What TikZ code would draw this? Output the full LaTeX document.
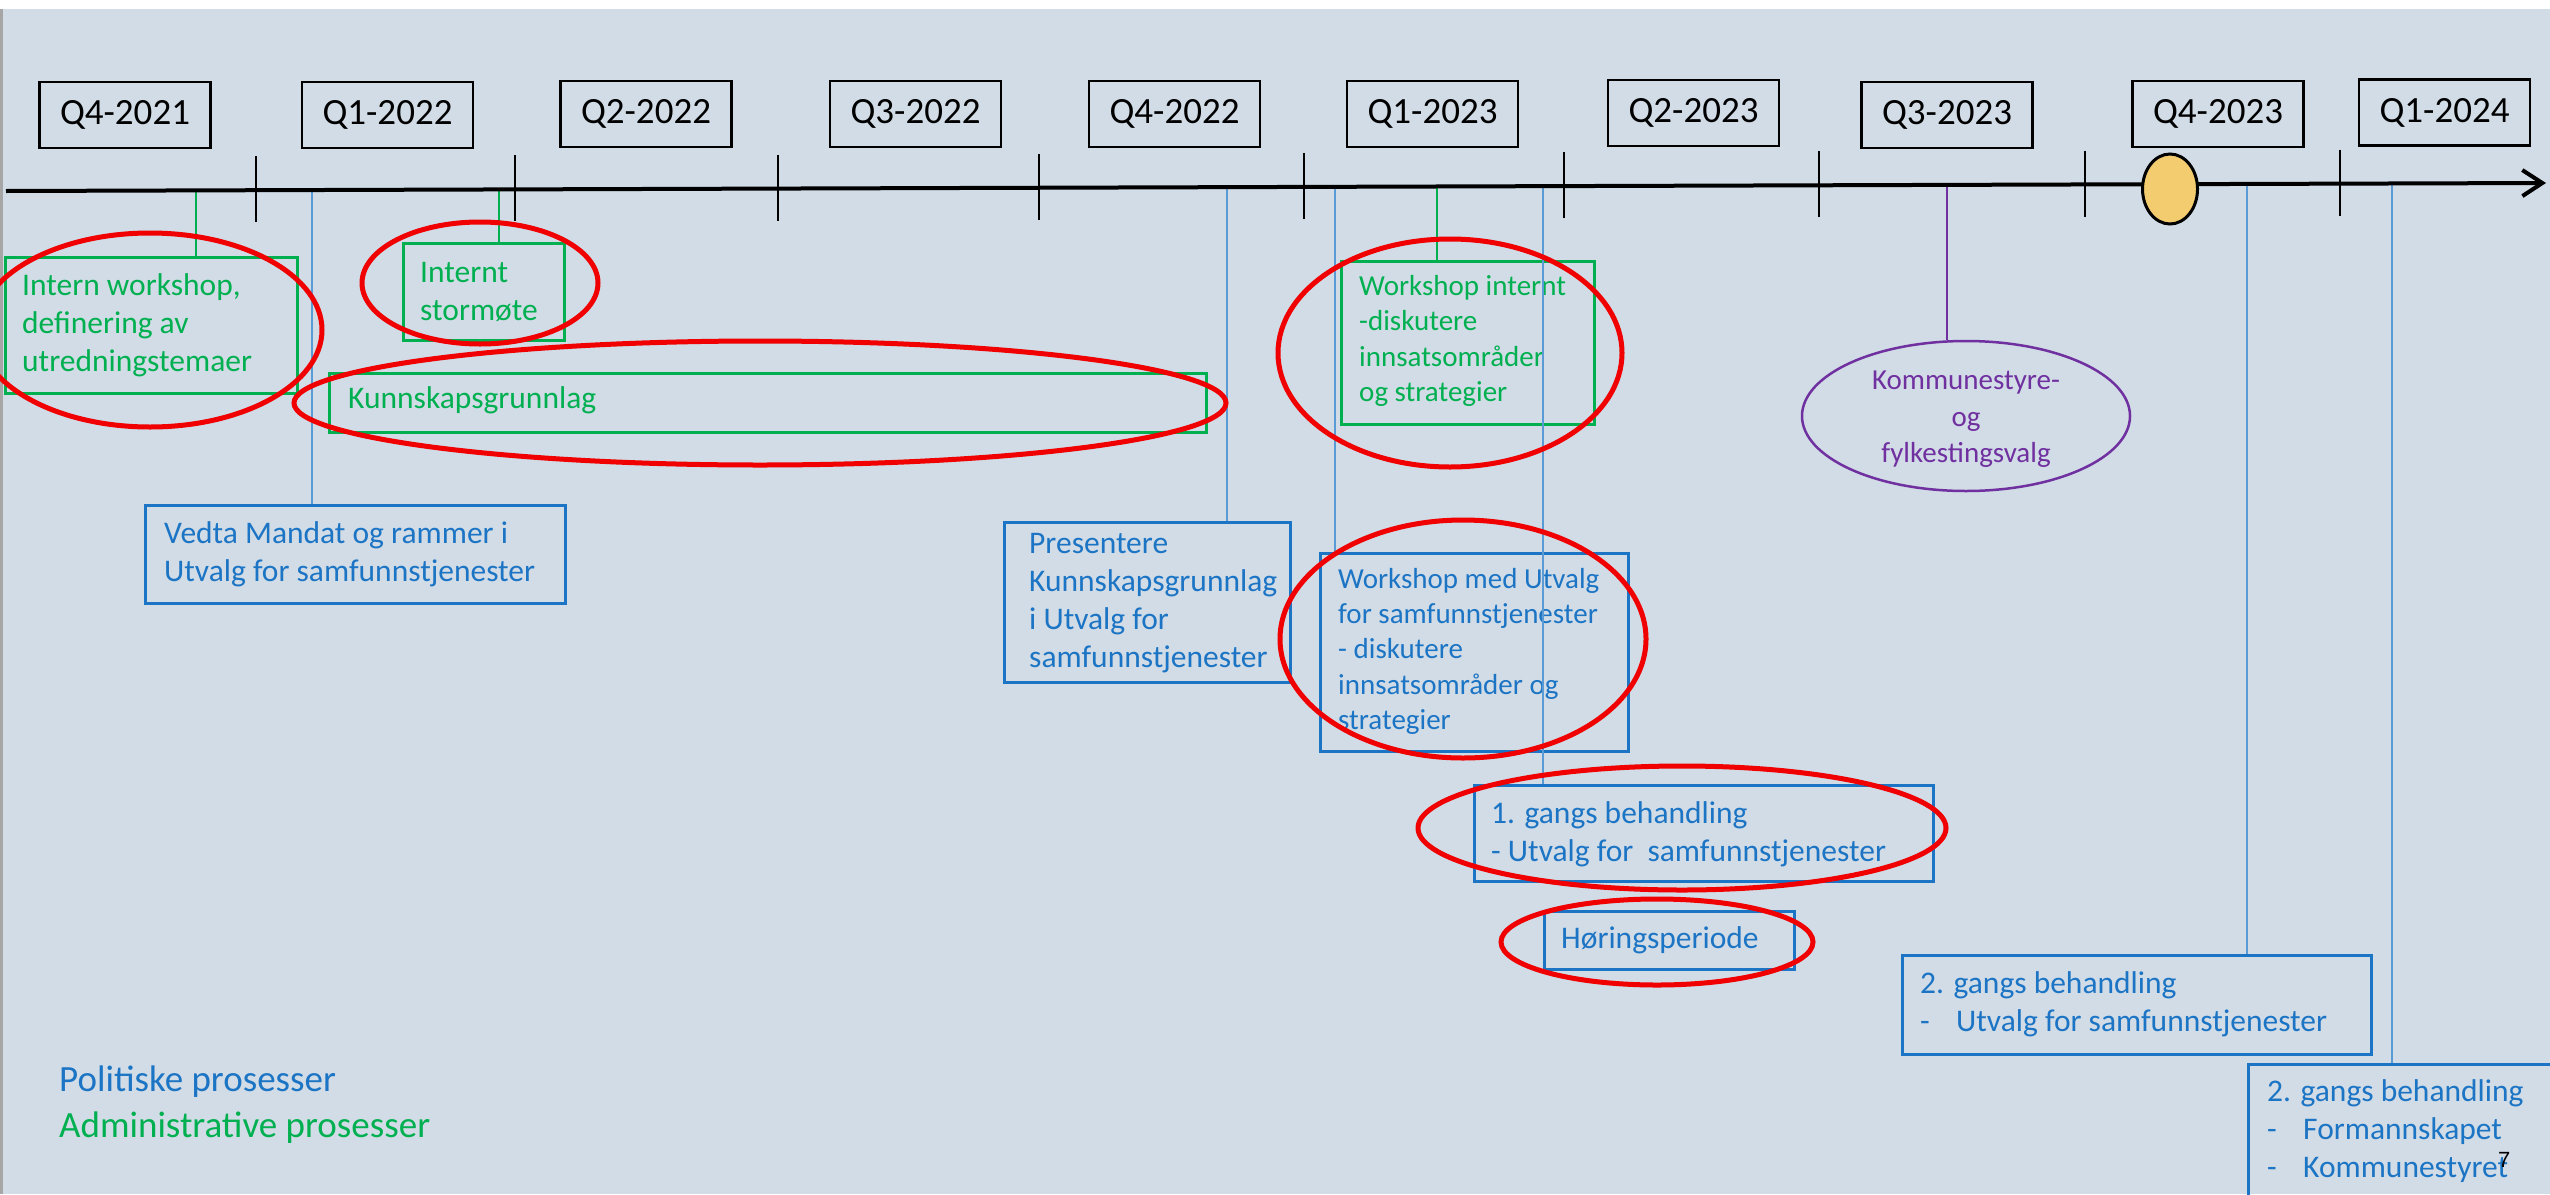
\documentclass[tikz,border=0pt]{standalone}
\usepackage{fontspec}
\setmainfont{Carlito}
\newfontfamily\pagefont{Liberation Sans}
\usetikzlibrary{arrows.meta,shapes.geometric}
\definecolor{bgc}{HTML}{D1DCE6}
\definecolor{grn}{HTML}{00B050}
\definecolor{blu}{HTML}{1C74C4}
\definecolor{bluL}{HTML}{5B9BD5}
\definecolor{pur}{HTML}{7030A0}
\definecolor{redm}{HTML}{F00000}
\definecolor{gold}{HTML}{F4CC70}
\begin{document}
\begin{tikzpicture}[x=1pt,y=-1pt,
  qbox/.style={draw=black,line width=2.2pt,minimum width=171pt,minimum height=66pt,inner sep=0pt,font=\fontsize{37}{44}\selectfont},
  gbox/.style={draw=grn,line width=2.5pt,inner sep=0pt,anchor=north west},
  bbox/.style={draw=blu,line width=2.5pt,inner sep=0pt,anchor=north west},
  gtxt/.style={text=grn,align=left,inner sep=0pt,anchor=north west,font=\fontsize{31.5}{38}\selectfont},
  btxt/.style={text=blu,align=left,inner sep=0pt,anchor=north west,font=\fontsize{31.5}{38}\selectfont},
  gtxts/.style={gtxt,font=\fontsize{29}{35.5}\selectfont},
  btxts/.style={btxt,font=\fontsize{29}{35.3}\selectfont},
  gline/.style={draw=grn,line width=2pt},
  bline/.style={draw=bluL,line width=2pt},
  pline/.style={draw=pur,line width=2pt},
  redmark/.style={draw=redm,line width=5pt},
  tickln/.style={draw=black,line width=2pt},
  legtxt/.style={inner sep=0pt,anchor=base west,font=\fontsize{37}{44}\selectfont}
]
\useasboundingbox (0,0) rectangle (2550,1194);
\clip (0,0) rectangle (2550,1194);
% background
\fill[white] (0,0) rectangle (2550,1194);
\fill[bgc] (3,9) rectangle (2550,1194);
\fill[black!35] (0,9) rectangle (3,1194);

% quarter labels
\node[qbox] (q1) at (125,115) {Q4-2021};
\node[qbox] (q2) at (387.5,115) {Q1-2022};
\node[qbox] (q3) at (646,114) {Q2-2022};
\node[qbox] (q4) at (915.5,114) {Q3-2022};
\node[qbox] (q5) at (1174.5,114) {Q4-2022};
\node[qbox] (q6) at (1432.5,114) {Q1-2023};
\node[qbox] (q7) at (1693.5,113) {Q2-2023};
\node[qbox] (q8) at (1947,115) {Q3-2023};
\node[qbox] (q9) at (2218,114) {Q4-2023};
\node[qbox] (q10) at (2444.5,112.5) {Q1-2024};

% attachment points on the time line
\coordinate (tl0) at (6,191);
\coordinate (tl1) at (2546,183);
\coordinate (cws) at (196,190.4);
\coordinate (cst) at (499,189.4);
\coordinate (cwi) at (1437,186.5);
\coordinate (cvm) at (312,190);
\coordinate (cpk) at (1227,187.2);
\coordinate (cwu) at (1335,186.8);
\coordinate (cg1) at (1543,186.2);
\coordinate (ckv) at (1947,184.9);
\coordinate (cg2) at (2247,183.9);
\coordinate (cg3) at (2392,183.5);

% administrative boxes (green)
\node[gbox,minimum width=292pt,minimum height=136pt] (ws) at (4,256) {};
\node[gtxt] (wst) at (22,268.4) {\strut Intern workshop,\\\strut definering av\\\strut utredningstemaer};
\node[gbox,minimum width=161pt,minimum height=97pt] (st) at (402,242) {};
\node[gtxt] (stt) at (420,255.4) {\strut Internt\\\strut stormøte};
\node[gbox,minimum width=877pt,minimum height=59pt] (kg) at (328,372) {};
\node[gtxt] (kgt) at (348,381.4) {\strut Kunnskapsgrunnlag};
\node[gbox,minimum width=253pt,minimum height=163pt] (wi) at (1340,260) {};
\node[gtxts] (wit) at (1359,270.2) {\strut Workshop internt\\\strut -diskutere\\\strut innsatsområder\\\strut og strategier};

% political boxes (blue)
\node[bbox,minimum width=420pt,minimum height=98pt] (vm) at (144,504) {};
\node[btxt] (vmt) at (164,516.4) {\strut Vedta Mandat og rammer i\\\strut Utvalg for samfunnstjenester};
\node[bbox,minimum width=286pt,minimum height=160pt] (pk) at (1003,521) {};
\node[btxt] (pkt) at (1029,526.4) {\strut Presentere\\\strut Kunnskapsgrunnlag\\\strut i Utvalg for\\\strut samfunnstjenester};
\node[bbox,minimum width=308pt,minimum height=198pt] (wu) at (1319,552) {};
\node[btxts] (wut) at (1338,563.3) {\strut Workshop med Utvalg\\\strut for samfunnstjenester\\\strut - diskutere\\\strut innsatsområder og\\\strut strategier};
\node[bbox,minimum width=459pt,minimum height=96pt] (g1) at (1473,784) {};
\node[btxt] (g1t) at (1491,796.4) {\strut 1. gangs behandling\\\strut - Utvalg for~~samfunnstjenester};
\node[bbox,minimum width=250pt,minimum height=58pt] (hp) at (1543,910) {};
\node[btxt] (hpt) at (1561,921.4) {\strut Høringsperiode};
\node[bbox,minimum width=469pt,minimum height=99pt] (g2) at (1901,954) {};
\node[btxt] (g2t) at (1920,966.4) {\strut 2. gangs behandling\\\strut\makebox[36pt][l]{-}Utvalg for samfunnstjenester};
\node[bbox,minimum width=360pt,minimum height=190pt] (g3) at (2247,1063) {};
\node[btxt] (g3t) at (2267,1074.4) {\strut 2. gangs behandling\\\strut\makebox[36pt][l]{-}Formannskapet\\\strut\makebox[36pt][l]{-}Kommunestyret};

% election ellipse (purple)
\node[draw=pur,line width=2.5pt,ellipse,minimum width=328pt,minimum height=150pt,inner sep=0pt] (kv) at (1966,416) {};
\node[text=pur,align=center,inner sep=0pt,font=\fontsize{29}{36.5}\selectfont] (kvt) at (1966,419) {\strut Kommunestyre-\\\strut og\\\strut fylkestingsvalg};

% connectors
\draw[gline] (cws) -- (cws |- ws.north);
\draw[gline] (cst) -- (cst |- st.north);
\draw[gline] (cwi) -- (cwi |- wi.north);
\draw[bline] (cvm) -- (cvm |- vm.north);
\draw[bline] (cpk) -- (cpk |- pk.north);
\draw[bline] (cwu) -- (cwu |- wu.north);
\draw[bline] (cg1) -- (cg1 |- g1.north);
\draw[pline] (ckv) -- (ckv |- kv.north);
\draw[bline] (cg2) -- (cg2 |- g2.north);
\draw[bline] (cg3) -- (cg3 |- g3.north);

% time line
\draw[line width=4pt,-{Straight Barb[length=20pt,width=26pt,line width=4pt]}] (tl0) -- (tl1);
\foreach \tx/\ty in {256/190.2,515/189.4,778/188.6,1039/187.7,1304/186.9,1564/186.1,1819/185.3,2085/184.5,2340/183.7}
  \draw[tickln] (\tx,\ty-34) -- (\tx,\ty+32);
\node[draw=black,fill=gold,line width=3pt,ellipse,minimum width=55pt,minimum height=70pt,inner sep=0pt] (now) at (2170,189) {};

% legend
\node[legtxt,text=blu] (lg1) at (59,1091) {Politiske prosesser};
\node[legtxt,text=grn] (lg2) at (59,1137) {Administrative prosesser};

% red annotation rings
\draw[redmark] (150,330) ellipse [x radius=172pt,y radius=97pt];
\draw[redmark] (480,283) ellipse [x radius=118pt,y radius=61pt];
\draw[redmark] (760,403) ellipse [x radius=466pt,y radius=62pt];
\draw[redmark] (1450,353) ellipse [x radius=172pt,y radius=114pt];
\draw[redmark] (1463,639) ellipse [x radius=183pt,y radius=119pt];
\draw[redmark] (1682,828) ellipse [x radius=264pt,y radius=62pt];
\draw[redmark] (1657,942) ellipse [x radius=156pt,y radius=43pt];

% page number
\node[inner sep=0pt,anchor=base west,font=\pagefont\fontsize{22}{26}\selectfont] (pg) at (2498,1167) {7};
\end{tikzpicture}
\end{document}
